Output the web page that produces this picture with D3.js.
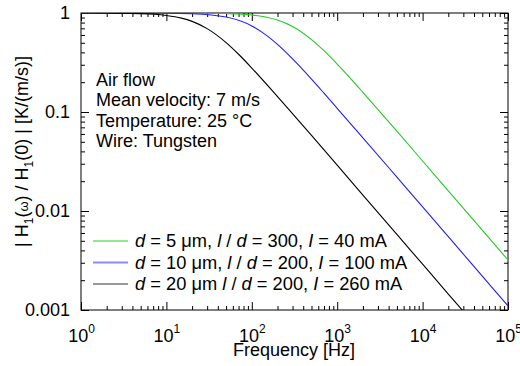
<!DOCTYPE html>
<html><head><meta charset="utf-8">
<script src="https://cdn.jsdelivr.net/npm/d3@7"></script>
<style>
html,body{margin:0;padding:0;background:#fff;}
text{font-family:"Liberation Sans",Arial,sans-serif;fill:#000;}
</style></head>
<body><svg id="c" width="520" height="366"></svg>
<script>
// ---- data ----
const freqs5  = [1, 10, 30, 50, 100, 150, 200, 300, 500, 700, 1000, 1500, 2000, 3000, 5000, 10000, 20000, 50000, 100000];
const green5  = [1.0, 0.9995, 0.996, 0.988, 0.954, 0.906, 0.848, 0.730, 0.539, 0.416, 0.305, 0.209, 0.158, 0.106, 0.064, 0.032, 0.016, 0.0064, 0.0032];
const freqs10 = [1, 10, 20, 50, 100, 150, 200, 300, 500, 700, 1000, 2000, 5000, 10000, 20000, 50000, 100000];
const blue10  = [1.0, 0.996, 0.984, 0.910, 0.740, 0.591, 0.482, 0.344, 0.215, 0.155, 0.109, 0.0549, 0.022, 0.011, 0.0055, 0.0022, 0.0011];
const freqs20 = [1, 5, 10, 15, 20, 30, 50, 70, 100, 200, 500, 1000, 2000, 5000, 10000, 20000, 30000, 40000];
const black20 = [1.0, 0.985, 0.945, 0.888, 0.823, 0.695, 0.502, 0.383, 0.278, 0.143, 0.058, 0.029, 0.0145, 0.0058, 0.0029, 0.00145, 0.00097, 0.00073];
const seriesLabels = [
  ["d", " = 5 \u03bcm, ", "l", " / ", "d", " = 300, ", "I", " = 40 mA"],
  ["d", " = 10 \u03bcm, ", "l", " / ", "d", " = 200, ", "I", " = 100 mA"],
  ["d", " = 20 \u03bcm ", "l", " / ", "d", " = 200, ", "I", " = 260 mA"]
];
const xMajorTicks = [1, 10, 100, 1000, 10000, 100000];
const xTickExp = ["0", "1", "2", "3", "4", "5"];
const yMajorTicks = [0.001, 0.01, 0.1, 1];
const yTickLabels = ["0.001", "0.01", "0.1", "1"];
const infoLines = ["Air flow", "Mean velocity: 7 m/s", "Temperature: 25 \u00b0C", "Wire: Tungsten"];

// ---- layout ----
const svg = d3.select("#c");
const L = 81, R = 508, T = 13, B = 310;
const x = d3.scaleLog().domain([1, 1e5]).range([L, R]);
const y = d3.scaleLog().domain([0.001, 1]).range([B, T]);

svg.append("defs").append("clipPath").attr("id", "pc")
  .append("rect").attr("x", L).attr("y", T).attr("width", R - L).attr("height", B - T);

const minorX = x.ticks().filter(v => !xMajorTicks.includes(v));
const minorY = y.ticks().filter(v => !yMajorTicks.some(m => Math.abs(m - v) / v < 1e-6));

function styleAxis(g) { g.select(".domain").remove(); g.selectAll(".tick line").attr("stroke", "#000").attr("stroke-width", 1); }

svg.append("g").attr("transform", `translate(0,${B})`)
  .call(d3.axisBottom(x).tickValues(minorX).tickSize(-4).tickFormat(""))
  .call(styleAxis);
const xb = svg.append("g").attr("transform", `translate(0,${B})`)
  .call(d3.axisBottom(x).tickValues(xMajorTicks).tickSize(-8).tickPadding(19).tickFormat(""))
  .call(styleAxis);
xb.selectAll(".tick text").each(function(d, i) {
  const t = d3.select(this).attr("font-size", 18).attr("dy", "0.71em")
    .attr("font-family", "Liberation Sans, Arial, sans-serif").attr("fill", "#000");
  t.append("tspan").text("10");
  t.append("tspan").text(xTickExp[i]).attr("font-size", 12).attr("dy", "-0.7em");
});
svg.append("g").attr("transform", `translate(0,${T})`)
  .call(d3.axisTop(x).tickValues(minorX).tickSize(-4).tickFormat(""))
  .call(styleAxis);
svg.append("g").attr("transform", `translate(0,${T})`)
  .call(d3.axisTop(x).tickValues(xMajorTicks).tickSize(-8).tickFormat(""))
  .call(styleAxis);

svg.append("g").attr("transform", `translate(${L},0)`)
  .call(d3.axisLeft(y).tickValues(minorY).tickSize(-4).tickFormat(""))
  .call(styleAxis);
const yl = svg.append("g").attr("transform", `translate(${L},0)`)
  .call(d3.axisLeft(y).tickValues(yMajorTicks).tickSize(-8).tickPadding(11)
    .tickFormat((d, i) => yTickLabels[i]))
  .call(styleAxis);
yl.selectAll(".tick text").attr("font-size", 18).attr("font-family", "Liberation Sans, Arial, sans-serif").attr("fill", "#000");
svg.append("g").attr("transform", `translate(${R},0)`)
  .call(d3.axisRight(y).tickValues(minorY).tickSize(-4).tickFormat(""))
  .call(styleAxis);
svg.append("g").attr("transform", `translate(${R},0)`)
  .call(d3.axisRight(y).tickValues(yMajorTicks).tickSize(-8).tickFormat(""))
  .call(styleAxis);

// frame
svg.append("rect").attr("x", L).attr("y", T).attr("width", R - L).attr("height", B - T)
  .attr("fill", "none").attr("stroke", "#000").attr("stroke-width", 1);

// curves
const line = d3.line().x(d => x(d[0])).y(d => y(d[1])).curve(d3.curveMonotoneX);
const series = [
  {f: freqs5, v: green5, c: "#22cc22", lc: "#90e890"},
  {f: freqs10, v: blue10, c: "#1f1fff", lc: "#8c8cff"},
  {f: freqs20, v: black20, c: "#000000", lc: "#999999"}
];
const pg = svg.append("g").attr("clip-path", "url(#pc)");
series.forEach(s => {
  pg.append("path").datum(s.f.map((f, i) => [f, s.v[i]]))
    .attr("d", line).attr("fill", "none").attr("stroke", s.c).attr("stroke-width", 1.1);
});

// info text
infoLines.forEach((t, i) => {
  svg.append("text").attr("x", 96).attr("y", 86 + i * 20.3).attr("font-size", 18).text(t);
});

// legend
series.forEach((s, i) => {
  const ly = 241 + i * 21.5;
  svg.append("line").attr("x1", 93).attr("x2", 128).attr("y1", ly).attr("y2", ly)
    .attr("stroke", s.lc).attr("stroke-width", 2);
  const t = svg.append("text").attr("x", 135).attr("y", ly + 6).attr("font-size", 18.3);
  seriesLabels[i].forEach((p, j) => {
    t.append("tspan").text(p).attr("font-style", (j % 2 === 0 && j < 7) ? "italic" : null);
  });
});

// axis titles
svg.append("text").attr("x", 294).attr("y", 356).attr("text-anchor", "middle")
  .attr("font-size", 18).text("Frequency [Hz]");
const yt = svg.append("text").attr("transform", `translate(28,${(T + B) / 2 - 10}) rotate(-90)`)
  .attr("text-anchor", "middle").attr("font-size", 18);
yt.append("tspan").text("| H");
yt.append("tspan").text("1").attr("font-size", 12).attr("dy", 5);
yt.append("tspan").text("(").attr("dy", -5);
yt.append("tspan").text("\u03c9").attr("font-size", 13);
yt.append("tspan").text(") / H");
yt.append("tspan").text("1").attr("font-size", 12).attr("dy", 5);
yt.append("tspan").text("(0) | [K/(m/s)]").attr("dy", -5);
</script></body></html>
